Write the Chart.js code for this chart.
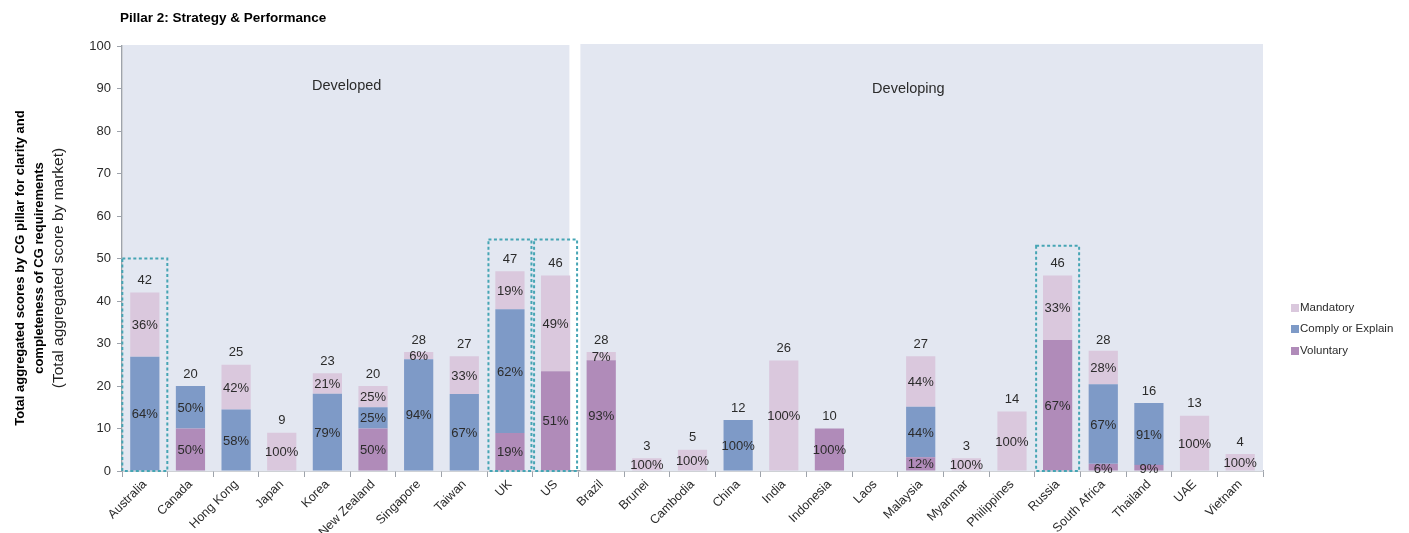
<!DOCTYPE html>
<html>
<head>
<meta charset="utf-8">
<script src="https://cdn.jsdelivr.net/npm/chart.js@4/dist/chart.umd.min.js"></script>
<style>
  html, body { margin: 0; padding: 0; background: #ffffff; }
  #wrap { width: 1409px; height: 533px; position: relative; }
</style>
</head>
<body>
<div id="wrap"><canvas id="c" width="1409" height="533"></canvas></div>
<script>
// ---- data ----
const markets = ["Australia","Canada","Hong Kong","Japan","Korea","New Zealand","Singapore","Taiwan","UK","US",
  "Brazil","Brunei","Cambodia","China","India","Indonesia","Laos","Malaysia","Myanmar","Philippines",
  "Russia","South Africa","Thailand","UAE","Vietnam"];
const totals        = [42,20,25,9,23,20,28,27,47,46, 28,3,5,12,26,10,0,27,3,14, 46,28,16,13,4];
const voluntaryPct  = [0,50,0,0,0,50,0,0,19,51, 93,0,0,0,0,100,0,12,0,0, 67,6,9,0,0];
const complyPct     = [64,50,58,0,79,25,94,67,62,0, 0,0,0,100,0,0,0,44,0,0, 0,67,91,0,0];
const mandatoryPct  = [36,0,42,100,21,25,6,33,19,49, 7,100,100,0,100,0,0,44,100,100, 33,28,0,100,100];
const yTicks = [0,10,20,30,40,50,60,70,80,90,100];
const groupNames = ["Developed","Developing"];
const developedCount = 10;
const highlighted = [ {market:"Australia", top:50}, {market:"UK", top:54.5}, {market:"US", top:54.5}, {market:"Russia", top:53} ];

const seg = (pct) => pct.map((p,i) => totals[i]*p/100);

const FONT = "'Liberation Sans', Arial, sans-serif";
const TXT = "#2b2b2b";

const pluginDecor = {
  id: 'decor',
  beforeDatasetsDraw(chart) {
    const {ctx, chartArea} = chart;
    const x = chart.scales.x, y = chart.scales.y;
    const w = x.getPixelForValue(1) - x.getPixelForValue(0);
    const boundary = x.getPixelForValue(developedCount) - w/2;
    ctx.save();
    ctx.fillStyle = '#e3e7f1';
    const yTop = y.getPixelForValue(100);
    ctx.fillRect(chartArea.left + 1, yTop - 1, boundary - 9 - chartArea.left - 1, chartArea.bottom - yTop + 1);
    ctx.fillRect(boundary + 2, yTop - 2, chartArea.right - boundary - 2, chartArea.bottom - yTop + 2);
    // group labels
    ctx.fillStyle = TXT;
    ctx.font = "14.5px " + FONT;
    ctx.textAlign = 'center';
    ctx.textBaseline = 'middle';
    ctx.fillText(groupNames[0], (chartArea.left + boundary - 9)/2 + 1, y.getPixelForValue(90.5));
    ctx.fillText(groupNames[1], boundary + (chartArea.right - boundary) * 0.482, y.getPixelForValue(90));
    ctx.restore();
  },
  afterDatasetsDraw(chart) {
    const {ctx} = chart;
    const x = chart.scales.x, y = chart.scales.y;
    const pctSets = [voluntaryPct, complyPct, mandatoryPct];
    ctx.save();
    ctx.font = "13px " + FONT;
    ctx.fillStyle = TXT;
    ctx.textAlign = 'center';
    ctx.textBaseline = 'middle';
    chart.data.datasets.forEach((ds, di) => {
      const meta = chart.getDatasetMeta(di);
      meta.data.forEach((bar, i) => {
        const p = pctSets[di][i];
        if (!p) return;
        const props = bar.getProps(['x','y','base'], true);
        let cy = (props.y + props.base)/2;
        if (cy > y.getPixelForValue(0) - 5) cy = y.getPixelForValue(0) - 3;
        ctx.fillText(p + '%', props.x, cy + 1);
      });
    });
    // totals
    totals.forEach((t, i) => {
      if (!t) return;
      ctx.fillText(String(t), x.getPixelForValue(i), y.getPixelForValue(t) - 12);
    });
    // dashed highlight boxes
    ctx.strokeStyle = '#46a5b4';
    ctx.lineWidth = 2;
    ctx.setLineDash([3, 2.5]);
    highlighted.forEach(h => {
      const i = markets.indexOf(h.market);
      const cx = x.getPixelForValue(i);
      const half = i === 0 ? 22.5 : 21.5;
      const yt = y.getPixelForValue(h.top), yb = y.getPixelForValue(0);
      ctx.strokeRect(cx - half, yt, half*2, yb - yt);
    });
    ctx.restore();
  },
  afterDraw(chart) {
    const {ctx} = chart;
    ctx.save();
    // chart title
    ctx.fillStyle = '#000';
    ctx.font = "bold 13.5px " + FONT;
    ctx.textAlign = 'left';
    ctx.textBaseline = 'middle';
    ctx.fillText("Pillar 2: Strategy & Performance", 120, 18);
    // y axis title
    ctx.translate(0, 268);
    ctx.rotate(-Math.PI/2);
    ctx.textAlign = 'center';
    ctx.fillStyle = '#000';
    ctx.font = "bold 13px 'Liberation Sans Narrow', 'Liberation Sans', Arial, sans-serif";
    ctx.fillText("Total aggregated scores by CG pillar for clarity and", 0, 20);
    ctx.fillText("completeness of CG requirements", 0, 39);
    ctx.font = "15.5px " + FONT;
    ctx.fillStyle = '#222';
    ctx.fillText("(Total aggregated score by market)", 0, 59);
    ctx.restore();
    // legend
    ctx.save();
    const items = [chart.data.datasets[2], chart.data.datasets[1], chart.data.datasets[0]];
    const ys = [308, 329, 351];
    ctx.font = "11.5px " + FONT;
    ctx.textBaseline = 'middle';
    ctx.textAlign = 'left';
    items.forEach((ds, k) => {
      ctx.fillStyle = ds.backgroundColor;
      ctx.fillRect(1291, ys[k] - 4, 8, 8);
      ctx.fillStyle = TXT;
      ctx.fillText(ds.label, 1300, ys[k]);
    });
    ctx.restore();
  }
};

new Chart(document.getElementById('c'), {
  type: 'bar',
  data: {
    labels: markets,
    datasets: [
      { label: 'Voluntary', data: seg(voluntaryPct), backgroundColor: '#b08bb9' },
      { label: 'Comply or Explain', data: seg(complyPct), backgroundColor: '#7e9ac7' },
      { label: 'Mandatory', data: seg(mandatoryPct), backgroundColor: '#dac8dd' }
    ]
  },
  options: {
    responsive: false,
    animation: false,
    devicePixelRatio: 1,
    layout: { padding: { left: 0, right: 146, top: 46, bottom: 0 } },
    datasets: { bar: { categoryPercentage: 1.0, barPercentage: 0.64, borderWidth: 0 } },
    plugins: { legend: { display: false }, title: { display: false }, tooltip: { enabled: false } },
    scales: {
      x: {
        stacked: true,
        afterFit(s) { s.height = 62; },
        grid: { display: true, drawOnChartArea: false, drawTicks: true, tickLength: 6, color: '#9ea3ab', offset: true },
        border: { display: true, color: '#9ea3ab', width: 1.5 },
        ticks: { minRotation: 45, maxRotation: 45, autoSkip: false, color: TXT, font: { family: FONT, size: 12.5 }, padding: 0 }
      },
      y: {
        stacked: true,
        min: 0, max: 100,
        afterFit(s) { s.width = 122; },
        afterBuildTicks(s) { s.ticks = yTicks.map(v => ({value: v})); },
        grid: { display: true, drawOnChartArea: false, drawTicks: true, tickLength: 5, color: '#9ea3ab' },
        border: { display: true, color: '#9ea3ab', width: 1.5 },
        ticks: { color: TXT, font: { family: FONT, size: 13 }, padding: 6 }
      }
    }
  },
  plugins: [pluginDecor]
});
</script>
</body>
</html>
